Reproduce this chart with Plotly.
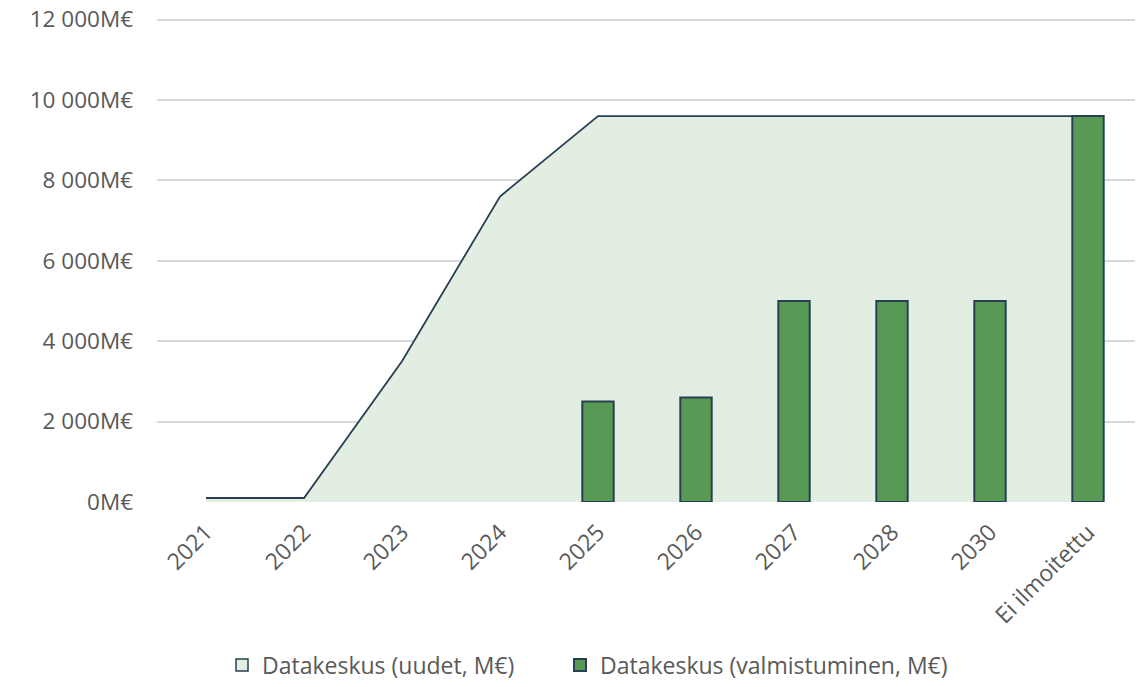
import plotly.graph_objects as go

categories = ["2021", "2022", "2023", "2024", "2025", "2026", "2027", "2028", "2030", "Ei ilmoitettu"]
uudet = [100, 100, 3500, 7600, 9600, 9600, 9600, 9600, 9600, 9600]
valmistuminen = [None, None, None, None, 2500, 2600, 5000, 5000, 5000, 9600]
y_ticks = [0, 2000, 4000, 6000, 8000, 10000, 12000]
y_ticktext = ["0M€", "2 000M€", "4 000M€", "6 000M€", "8 000M€", "10 000M€", "12 000M€"]

name_area = "Datakeskus (uudet, M€)"
name_bar = "Datakeskus (valmistuminen, M€)"

area_fill = "#E3EEE2"
line_col = "#263F52"
bar_fill = "#589A55"

fig = go.Figure()
fig.add_trace(go.Scatter(
    x=categories, y=uudet, mode="lines", fill="tozeroy",
    fillcolor=area_fill, line=dict(color=line_col, width=1.8),
    showlegend=False, zorder=0, hoverinfo="skip"))
# legend entry for the area (no data)
fig.add_trace(go.Bar(
    x=[None], y=[None], name=name_area, legend="legend",
    marker=dict(color=area_fill, line=dict(color=line_col, width=1.5))))
fig.add_trace(go.Bar(
    x=categories, y=valmistuminen, name=name_bar, width=0.32, legend="legend2",
    marker=dict(color=bar_fill, line=dict(color=line_col, width=2)),
    zorder=1))

font_family = "Open Sans, Roboto, sans-serif"
plot_h = 679 - 10 - 185
legend_common = dict(orientation="h", xanchor="left", y=-163 / plot_h, yanchor="middle",
                     font=dict(size=23, color="#595959"), itemwidth=30,
                     bgcolor="rgba(0,0,0,0)")
fig.update_layout(
    width=1135, height=679,
    margin=dict(l=149, r=6, t=10, b=185, autoexpand=False),
    plot_bgcolor="white", paper_bgcolor="white",
    font=dict(family=font_family, size=23, color="#595959"),
    barmode="overlay",
    legend=dict(x=(214 - 149) / 980, **legend_common),
    legend2=dict(x=(552 - 149) / 980, **legend_common),
    xaxis=dict(type="category", categoryorder="array", categoryarray=categories,
               range=[-0.5, 9.5], tickangle=-45, showgrid=False, automargin=False,
               showline=True, linecolor="#BFBFBF", linewidth=1.5,
               ticks="", ticklabelstandoff=6,
               tickfont=dict(size=23, color="#595959")),
    yaxis=dict(range=[0, 12040], tickvals=y_ticks, ticktext=y_ticktext, automargin=False,
               showgrid=True, gridcolor="#D9D9D9", gridwidth=1.5,
               zeroline=False, showline=False, ticks="",
               ticklabelstandoff=23, ticklabeloverflow="allow",
               tickfont=dict(size=22.5, color="#595959")),
)

fig.write_html("out.html")
